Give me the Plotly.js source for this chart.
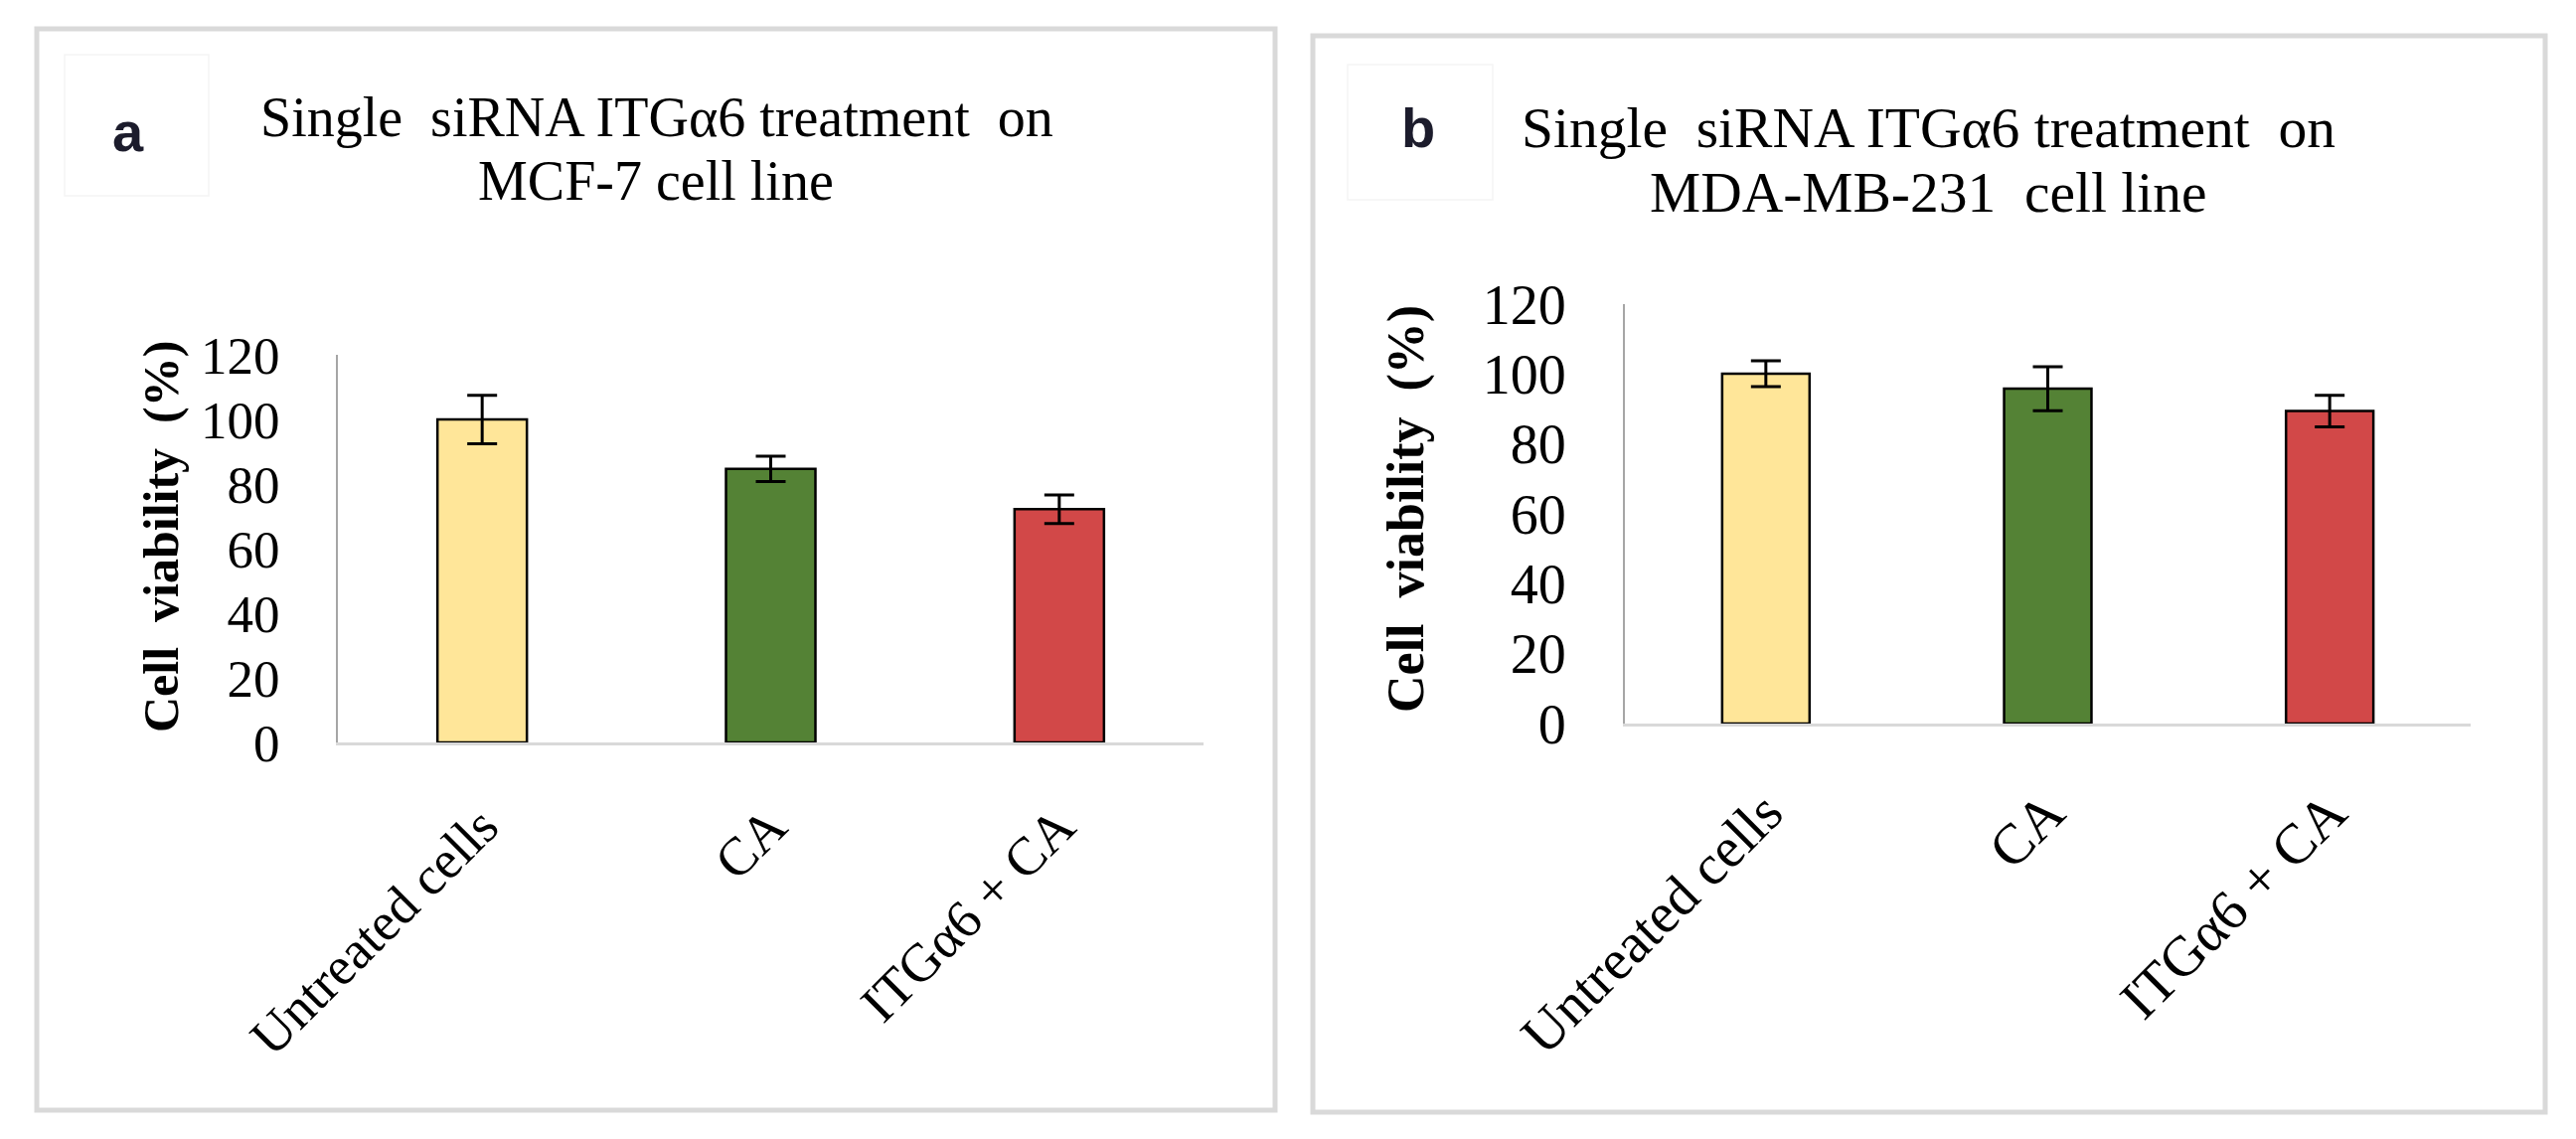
<!DOCTYPE html>
<html>
<head>
<meta charset="utf-8">
<script src="https://cdn.plot.ly/plotly-3.0.1.min.js"></script>
<style>
  html, body { margin: 0; padding: 0; background: #ffffff; }
  #chart { width: 2592px; height: 1146px; }
</style>
</head>
<body>
<div id="chart"></div>
<script>
// ---- data ----
const categories = ['Untreated cells', 'CA', 'ITGα6 + CA'];
const mcf7Values = [100, 84.7, 72.2];
const mcf7Errors = [7.5, 3.9, 4.4];
const mdaValues = [100.1, 95.8, 89.4];
const mdaErrors = [3.7, 6.3, 4.5];
const barColors = ['#FFE699', '#548235', '#D24848'];
const yTickValues = [0, 20, 40, 60, 80, 100, 120];
const titleA = ['Single  siRNA ITGα6 treatment  on', 'MCF-7 cell line'];
const titleB = ['Single  siRNA ITGα6 treatment  on', 'MDA-MB-231  cell line'];
const yTitle = 'Cell  viability  (%)';
const panelLabels = ['a', 'b'];

// ---- helpers (pixel -> paper) ----
const W = 2592, H = 1146;
const px = x => x / W;
const py = y => 1 - y / H;

const serif = 'Liberation Serif, Times New Roman, serif';

function barTrace(vals, errs, xa, ya) {
  return {
    type: 'bar',
    x: categories,
    y: vals,
    xaxis: xa,
    yaxis: ya,
    marker: { color: barColors, line: { color: '#000000', width: 2.5 } },
    error_y: { type: 'data', array: errs, visible: true, color: '#000000', thickness: 3, width: 15 },
    hoverinfo: 'x+y',
    showlegend: false
  };
}

const data = [
  barTrace(mcf7Values, mcf7Errors, 'x', 'y'),
  barTrace(mdaValues, mdaErrors, 'x2', 'y2')
];

function xAxis(domain, anchor, size, standoff) {
  return {
    domain: domain, anchor: anchor, type: 'category',
    showline: true, linecolor: '#d9d9d9', linewidth: 3,
    showgrid: false, zeroline: false, ticks: '',
    tickangle: -45, ticklabelstandoff: standoff,
    tickfont: { family: serif, size: size, color: '#000000' },
    fixedrange: true
  };
}
function yAxis(domain, anchor, size) {
  return {
    domain: domain, anchor: anchor, range: [0, 120],
    tickmode: 'array', tickvals: yTickValues, ticktext: yTickValues.map(String),
    showline: true, linecolor: '#a6a6a6', linewidth: 2,
    showgrid: false, zeroline: false, ticks: '',
    ticklabelstandoff: 46,
    tickfont: { family: serif, size: size, color: '#000000' },
    fixedrange: true
  };
}

const annotations = [];
function addText(text, x, y, size, opts) {
  annotations.push(Object.assign({
    text: text, xref: 'paper', yref: 'paper', x: px(x), y: py(y),
    xanchor: 'center', yanchor: 'middle', showarrow: false,
    font: { family: serif, size: size, color: '#000000' }
  }, opts || {}));
}
// titles
addText(titleA[0], 661, 118, 56);
addText(titleA[1], 660, 182, 56);
addText(titleB[0], 1940, 128, 57.5);
addText(titleB[1], 1940, 193, 57.5);
// y axis titles
addText('<b>' + yTitle + '</b>', 162, 540, 50, { textangle: -90 });
addText('<b>' + yTitle + '</b>', 1415, 512, 52, { textangle: -90 });
// panel letters
addText('<b>' + panelLabels[0] + '</b>', 129, 132, 56, { font: { family: 'Liberation Sans, Arial, sans-serif', size: 56, color: '#1c1c2c' } });
addText('<b>' + panelLabels[1] + '</b>', 1427, 128, 56, { font: { family: 'Liberation Sans, Arial, sans-serif', size: 56, color: '#1c1c2c' } });

const shapes = [
  { type: 'rect', xref: 'paper', yref: 'paper', x0: px(37), x1: px(1283), y0: py(29), y1: py(1117),
    line: { color: '#d9d9d9', width: 5 }, fillcolor: 'rgba(0,0,0,0)' },
  { type: 'rect', xref: 'paper', yref: 'paper', x0: px(1321), x1: px(2561), y0: py(36), y1: py(1119),
    line: { color: '#d9d9d9', width: 5 }, fillcolor: 'rgba(0,0,0,0)' },
  { type: 'rect', xref: 'paper', yref: 'paper', x0: px(65), x1: px(210), y0: py(55), y1: py(197),
    line: { color: '#f5f5f5', width: 1.5 }, fillcolor: 'rgba(0,0,0,0)' },
  { type: 'rect', xref: 'paper', yref: 'paper', x0: px(1356), x1: px(1502), y0: py(65), y1: py(201),
    line: { color: '#f5f5f5', width: 1.5 }, fillcolor: 'rgba(0,0,0,0)' }
];

const layout = {
  width: W, height: H,
  margin: { l: 0, r: 0, t: 0, b: 0 },
  paper_bgcolor: '#ffffff', plot_bgcolor: '#ffffff',
  bargap: 0.69,
  showlegend: false,
  xaxis: xAxis([px(340), px(1211)], 'y', 54, 28),
  yaxis: yAxis([py(747), py(357)], 'x', 53),
  xaxis2: xAxis([px(1635), px(2486)], 'y2', 57, 30),
  yaxis2: yAxis([py(728), py(306)], 'x2', 56),
  annotations: annotations,
  shapes: shapes
};

Plotly.newPlot('chart', data, layout, { displayModeBar: false, staticPlot: true });
</script>
</body>
</html>
